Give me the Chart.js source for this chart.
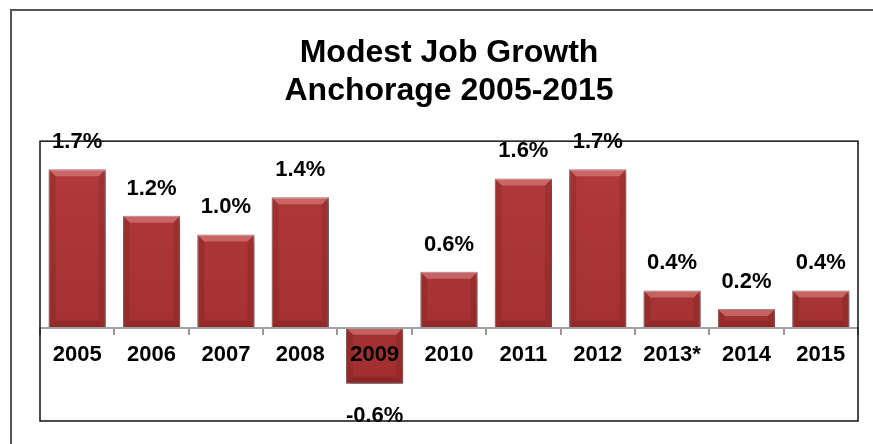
<!DOCTYPE html>
<html>
<head>
<meta charset="utf-8">
<title>Modest Job Growth - Anchorage 2005-2015</title>
<script src="https://cdn.jsdelivr.net/npm/chart.js@4.4.1/dist/chart.umd.min.js"></script>
<style>
    body { margin: 0; background: #ffffff; }
    canvas { display: block; }
</style>
</head>
<body>
<canvas id="jobChart" width="873" height="444"></canvas>
<script>
// Chart data
const years = ['2005', '2006', '2007', '2008', '2009', '2010', '2011', '2012', '2013*', '2014', '2015'];
const growth = [1.7, 1.2, 1.0, 1.4, -0.6, 0.6, 1.6, 1.7, 0.4, 0.2, 0.4];
const titleLines = ['Modest Job Growth', 'Anchorage 2005-2015'];
const yMin = -1;
const yMax = 2;

const fontFamily = 'Arial, "Liberation Sans", sans-serif';

// Outer frame + plot box
const framePlugin = {
    id: 'frame',
    beforeDraw(chart) {
        const ctx = chart.ctx;
        ctx.save();
        ctx.strokeStyle = '#555555';
        ctx.lineWidth = 2;
        ctx.beginPath();
        ctx.moveTo(11, chart.height + 5);
        ctx.lineTo(11, 10);
        ctx.lineTo(chart.width + 5, 10);
        ctx.stroke();
        ctx.restore();
    },
    afterDraw(chart) {
        const a = chart.chartArea;
        const ctx = chart.ctx;
        ctx.save();
        ctx.strokeStyle = '#111111';
        ctx.lineWidth = 1.5;
        ctx.strokeRect(a.left, a.top, a.right - a.left, a.bottom - a.top);
        ctx.restore();
    }
};

// Drop shadow, bevel and value labels for the bars
const barStylePlugin = {
    id: 'barStyle',
    beforeDatasetsDraw(chart) {
        const ctx = chart.ctx;
        ctx.save();
        ctx.shadowColor = 'rgba(0, 0, 0, 0.35)';
        ctx.shadowBlur = 6;
        ctx.shadowOffsetX = 2;
        ctx.shadowOffsetY = 4;
    },
    afterDatasetsDraw(chart) {
        const ctx = chart.ctx;
        ctx.restore();

        const meta = chart.getDatasetMeta(0);
        const b = 7;
        ctx.save();
        meta.data.forEach((bar, i) => {
            const p = bar.getProps(['x', 'y', 'base', 'width'], true);
            const left = p.x - p.width / 2;
            const right = p.x + p.width / 2;
            const top = Math.min(p.y, p.base);
            const bottom = Math.max(p.y, p.base);

            // top bevel (light)
            ctx.fillStyle = 'rgba(255, 190, 190, 0.35)';
            ctx.beginPath();
            ctx.moveTo(left, top);
            ctx.lineTo(right, top);
            ctx.lineTo(right - b, top + b);
            ctx.lineTo(left + b, top + b);
            ctx.closePath();
            ctx.fill();

            // bottom bevel (dark)
            ctx.fillStyle = 'rgba(60, 0, 0, 0.18)';
            ctx.beginPath();
            ctx.moveTo(left, bottom);
            ctx.lineTo(right, bottom);
            ctx.lineTo(right - b, bottom - b);
            ctx.lineTo(left + b, bottom - b);
            ctx.closePath();
            ctx.fill();

            // side bevels
            ctx.fillStyle = 'rgba(60, 0, 0, 0.12)';
            ctx.beginPath();
            ctx.moveTo(left, top);
            ctx.lineTo(left + b, top + b);
            ctx.lineTo(left + b, bottom - b);
            ctx.lineTo(left, bottom);
            ctx.closePath();
            ctx.fill();
            ctx.beginPath();
            ctx.moveTo(right, top);
            ctx.lineTo(right - b, top + b);
            ctx.lineTo(right - b, bottom - b);
            ctx.lineTo(right, bottom);
            ctx.closePath();
            ctx.fill();

            // value label
            const v = growth[i];
            ctx.fillStyle = '#000000';
            ctx.font = 'bold 22px ' + fontFamily;
            ctx.textAlign = 'center';
            ctx.textBaseline = 'alphabetic';
            const label = v.toFixed(1) + '%';
            if (v >= 0) {
                ctx.fillText(label, p.x, p.y - 21);
            } else {
                ctx.fillText(label, p.x, p.y + 38);
            }
        });
        ctx.restore();
    }
};

function barGradient(context) {
    const chart = context.chart;
    const area = chart.chartArea;
    if (!area) return '#a83232';
    const g = chart.ctx.createLinearGradient(0, area.top, 0, area.bottom);
    g.addColorStop(0, '#b23a3a');
    g.addColorStop(1, '#9e2d2d');
    return g;
}

new Chart(document.getElementById('jobChart'), {
    type: 'bar',
    data: {
        labels: years,
        datasets: [{
            data: growth,
            backgroundColor: barGradient,
            borderColor: '#8c7070',
            borderWidth: 1,
            categoryPercentage: 1.0,
            barPercentage: 0.77
        }]
    },
    options: {
        responsive: false,
        devicePixelRatio: 1,
        animation: false,
        layout: {
            padding: { left: 40, right: 15, top: 0, bottom: 23 }
        },
        plugins: {
            legend: { display: false },
            tooltip: { enabled: false },
            title: {
                display: true,
                text: titleLines,
                color: '#000000',
                font: { family: fontFamily, size: 32, weight: 'bold', lineHeight: 1.19 },
                padding: { top: 34, bottom: 31 }
            }
        },
        scales: {
            x: {
                position: { y: 0 },
                offset: true,
                grid: {
                    offset: true,
                    drawOnChartArea: false,
                    drawTicks: true,
                    tickLength: 6,
                    color: '#999999',
                    lineWidth: 2
                },
                border: { display: true, color: '#a0a0a0', width: 2, z: 1 },
                ticks: {
                    z: 1,
                    color: '#000000',
                    padding: 8,
                    font: { family: fontFamily, size: 22, weight: 'bold' }
                }
            },
            y: {
                display: false,
                min: yMin,
                max: yMax
            }
        }
    },
    plugins: [framePlugin, barStylePlugin]
});
</script>
</body>
</html>
